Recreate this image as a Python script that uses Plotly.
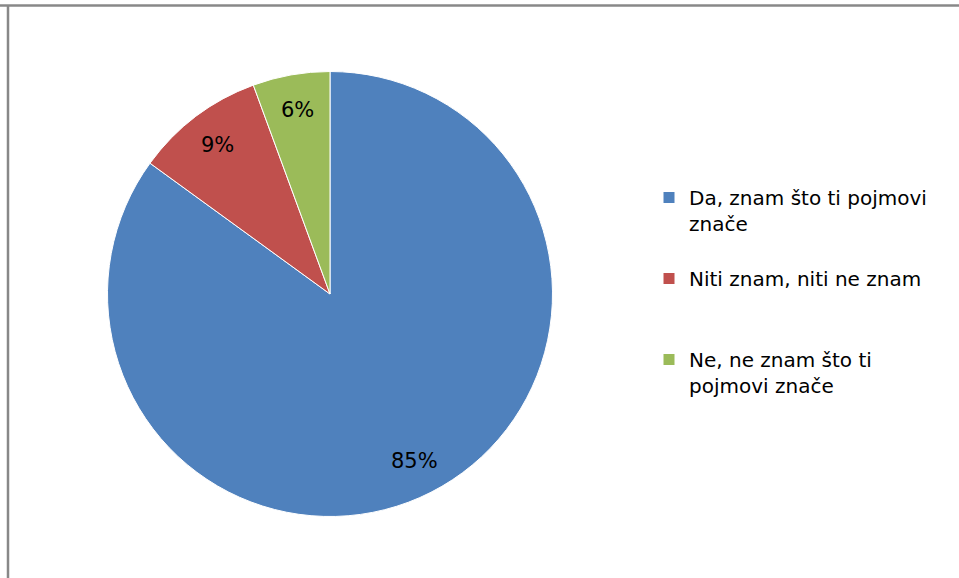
import math
import plotly.graph_objects as go

categories = ["Da, znam što ti pojmovi znače", "Niti znam, niti ne znam", "Ne, ne znam što ti pojmovi znače"]
legend_text = ["&nbsp;<br>Da, znam što ti pojmovi<br>znače",
               "&nbsp;<br>Niti znam, niti ne znam<br>&nbsp;",
               "&nbsp;<br>Ne, ne znam što ti<br>pojmovi znače"]
values = [85.0, 9.4, 5.6]
colors = ["#4F81BD", "#C0504D", "#9BBB59"]

W, H = 959, 578
cx, cy, r = 330, 294, 222.5
FONT = "DejaVu Sans, Open Sans, Arial"

fig = go.Figure(go.Pie(
    labels=legend_text,
    values=values,
    customdata=categories,
    sort=False,
    direction="clockwise",
    rotation=0,
    marker=dict(colors=colors, line=dict(color="white", width=1)),
    textinfo="none",
    textposition="none",
    domain=dict(x=[(cx - r) / W, (cx + r) / W], y=[(H - cy - r) / H, (H - cy + r) / H]),
    hovertemplate="%{customdata}: %{percent:.0%}<extra></extra>",
))

# percentage labels placed at the mid-angle of each slice
total = sum(values)
annotations = []
cum = 0.0
for v in values:
    mid = (cum + v / 2) / total * 2 * math.pi
    cum += v
    rr = 0.84 * r
    px = cx + rr * math.sin(mid)
    py = cy - rr * math.cos(mid)
    annotations.append(dict(
        x=px / W, y=1 - py / H, xref="paper", yref="paper",
        text=f"{round(v / total * 100):d}%", showarrow=False,
        font=dict(family=FONT, size=21, color="black"),
        xanchor="center", yanchor="middle",
    ))

fig.update_layout(
    width=W, height=H,
    margin=dict(l=0, r=0, t=0, b=0),
    paper_bgcolor="white",
    plot_bgcolor="white",
    showlegend=True,
    legend=dict(
        x=649 / W, y=1 - 152 / H, xanchor="left", yanchor="top",
        font=dict(family=FONT, size=20, color="black"),
        bgcolor="rgba(0,0,0,0)",
    ),
    annotations=annotations,
    shapes=[
        dict(type="line", xref="paper", yref="paper", x0=0, x1=1, y0=1 - 5.5 / H, y1=1 - 5.5 / H,
             line=dict(color="#888888", width=2.5)),
        dict(type="line", xref="paper", yref="paper", x0=8 / W, x1=8 / W, y0=0, y1=1 - 5.5 / H,
             line=dict(color="#888888", width=2.5)),
    ],
)

fig.write_html("out.html", config={"displayModeBar": False},
               post_script="document.body.style.margin='0';")
